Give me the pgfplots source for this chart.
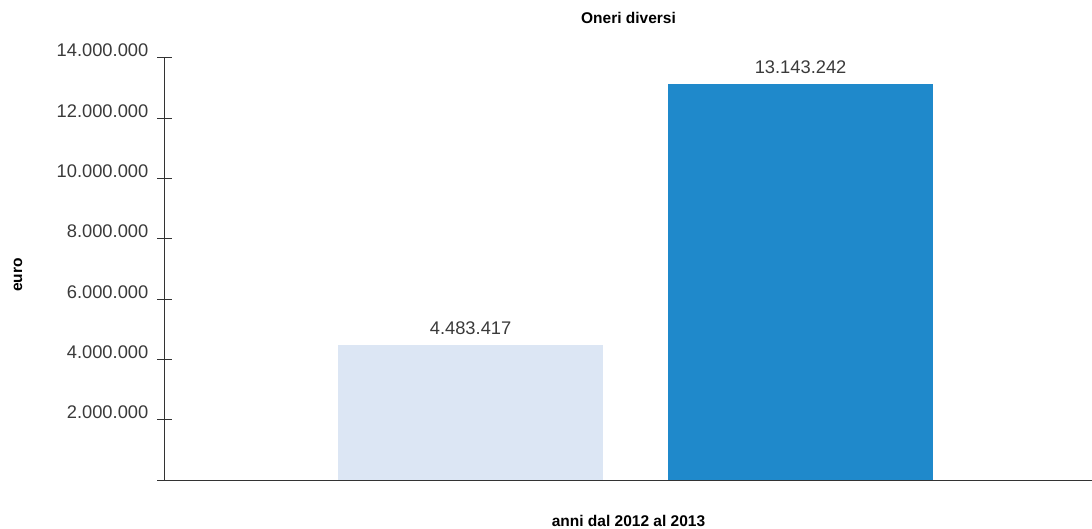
\documentclass[border=0pt]{standalone}
\usepackage{fontspec}
\setmainfont{Liberation Sans}
\usepackage{pgfplots}
\pgfplotsset{compat=1.18}
\definecolor{txt}{HTML}{3A3A3A}
\definecolor{axc}{HTML}{333333}
\definecolor{barA}{HTML}{DCE6F4}
\definecolor{barB}{HTML}{1F89CB}
\begin{document}
\begin{tikzpicture}
\useasboundingbox (-165bp,-49bp) rectangle (927bp,480bp);
\begin{axis}[
  at={(0,0)}, anchor=south west,
  scale only axis, width=927bp, height=422bp,
  ybar, bar width=265bp,
  xmin=-0.926, xmax=1.883, ymin=0, ymax=14000000,
  axis x line=bottom, axis y line=left,
  axis line style={-, line width=1bp, draw=axc},
  xtick=\empty,
  ytick={0,2000000,4000000,6000000,8000000,10000000,12000000,14000000},
  yticklabels={,2.000.000,4.000.000,6.000.000,8.000.000,10.000.000,12.000.000,14.000.000},
  scaled y ticks=false,
  major tick length=15bp, tick align=center,
  ytick style={line width=1bp, draw=axc},
  yticklabel style={font=\fontsize{18.3bp}{21bp}\selectfont, text=txt, anchor=base east, inner sep=0pt, xshift=-9bp, yshift=1bp},
  title={Oneri diversi},
  title style={font=\bfseries\fontsize{15.5bp}{18bp}\selectfont, text=black, at={(axis description cs:0.5,1)}, anchor=base, yshift=29bp},
  ylabel={euro},
  ylabel style={font=\bfseries\fontsize{15.5bp}{18bp}\selectfont, text=black, at={(axis description cs:-0.1586,0.486)}, anchor=center},
  xlabel={anni dal 2012 al 2013},
  xlabel style={font=\bfseries\fontsize{15.5bp}{18bp}\selectfont, text=black, at={(axis description cs:0.5,0)}, anchor=center, yshift=-41bp},
  nodes near coords,
  point meta=explicit symbolic,
  every node near coord/.append style={font=\fontsize{18.3bp}{21bp}\selectfont, text=txt, anchor=base, inner sep=0pt, yshift=10bp},
  clip=false,
]
\addplot[fill=barA, draw=none, bar shift=0pt] coordinates {(0,4483417) [4.483.417]};
\addplot[fill=barB, draw=none, bar shift=0pt] coordinates {(1,13143242) [13.143.242]};
\end{axis}
\end{tikzpicture}
\end{document}
